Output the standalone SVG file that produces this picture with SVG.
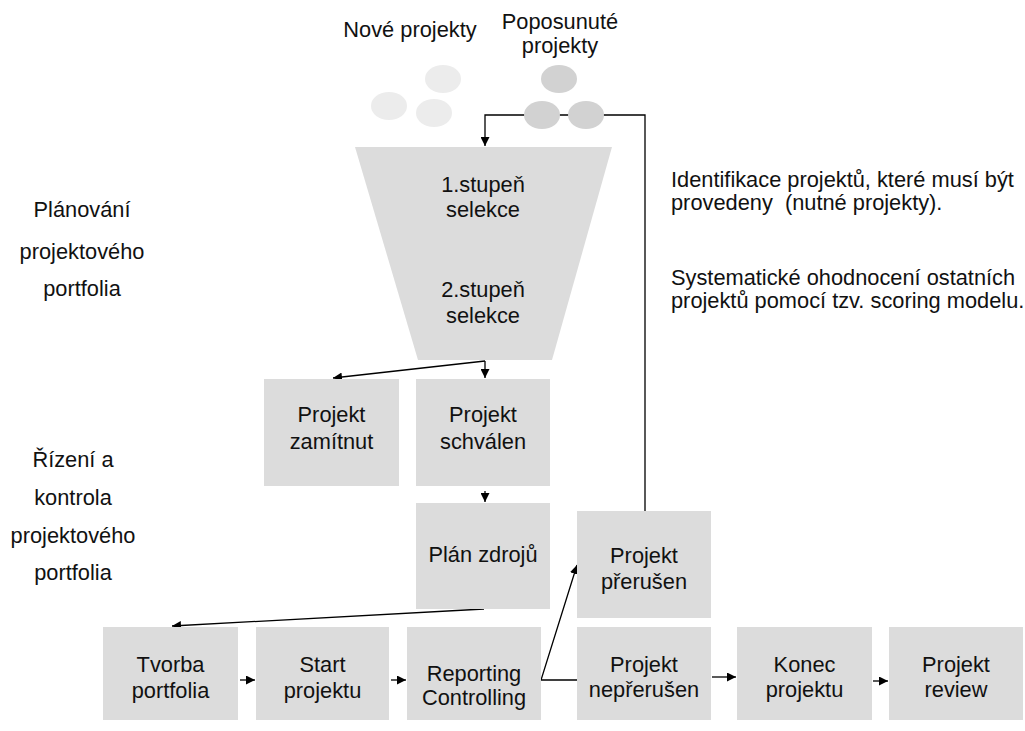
<svg xmlns="http://www.w3.org/2000/svg" width="1025" height="731" viewBox="0 0 1025 731">
  <style>
    .box { fill: #dcdcdc; }
    .t { font-family: "Liberation Sans", Arial, sans-serif; font-size: 21.8px; fill: #111; }
    .c { text-anchor: middle; }
    .ln { fill: none; stroke: #000; stroke-width: 1.3; }
    .arr { marker-end: url(#ah); }
  </style>
  <defs>
    <marker id="ah" viewBox="0 0 10 10" refX="10" refY="5" markerWidth="9" markerHeight="9" markerUnits="userSpaceOnUse" orient="auto">
      <path d="M0,0 L10,5 L0,10 z" fill="#000"/>
    </marker>
  </defs>
  <rect width="1025" height="731" fill="#fff"/>

  <!-- header labels -->
  <text class="t c" x="410" y="37">Nové projekty</text>
  <text class="t c" x="560" y="29">Poposunuté</text>
  <text class="t c" x="560" y="53">projekty</text>

  <!-- phase labels -->
  <g id="phase-planning">
    <text class="t c" x="82" y="217">Plánování</text>
    <text class="t c" x="82" y="259">projektového</text>
    <text class="t c" x="82" y="296">portfolia</text>
  </g>
  <g id="phase-control">
    <text class="t c" x="73" y="467">Řízení a</text>
    <text class="t c" x="73" y="505">kontrola</text>
    <text class="t c" x="73" y="543">projektového</text>
    <text class="t c" x="73" y="580">portfolia</text>
  </g>

  <!-- notes -->
  <g id="notes">
    <text class="t" x="671" y="187">Identifikace projektů, které musí být</text>
    <text class="t" x="671" y="210">provedeny&#160; (nutné projekty).</text>
    <text class="t" x="671" y="285">Systematické ohodnocení ostatních</text>
    <text class="t" x="671" y="308">projektů pomocí tzv. scoring modelu.</text>
  </g>

  <!-- connectors -->
  <g id="connectors">
    <polyline class="ln arr" points="645,511 645,115 485,115 485,146"/>
    <line class="ln arr" x1="485" y1="361" x2="333" y2="378"/>
    <line class="ln arr" x1="485" y1="361" x2="485" y2="378"/>
    <line class="ln arr" x1="485" y1="491" x2="485" y2="502"/>
    <line class="ln arr" x1="484" y1="609" x2="172" y2="626"/>
    <line class="ln arr" x1="240" y1="680" x2="255" y2="680"/>
    <line class="ln arr" x1="391" y1="680" x2="406" y2="680"/>
    <polyline class="ln arr" points="577,680 541,680 577,565"/>
    <line class="ln arr" x1="712" y1="677" x2="736" y2="677"/>
    <line class="ln arr" x1="873" y1="681" x2="888" y2="681"/>
  </g>

  <!-- incoming projects -->
  <g id="new-projects" fill="#ececec">
    <ellipse cx="443" cy="79" rx="18" ry="14"/>
    <ellipse cx="389" cy="106" rx="18" ry="14"/>
    <ellipse cx="434" cy="113" rx="18" ry="14"/>
  </g>
  <g id="postponed-projects" fill="#d2d2d2">
    <ellipse cx="559" cy="79" rx="18" ry="14"/>
    <ellipse cx="542" cy="115" rx="18" ry="14"/>
    <ellipse cx="586" cy="115" rx="18" ry="14"/>
  </g>

  <!-- selection funnel -->
  <g id="funnel">
    <polygon class="box" points="355,147 612,147 552,360 418,360"/>
    <text class="t c" x="483" y="192">1.stupeň</text>
    <text class="t c" x="483" y="217">selekce</text>
    <text class="t c" x="483" y="297">2.stupeň</text>
    <text class="t c" x="483" y="323">selekce</text>
  </g>

  <g id="zamitnut">
    <rect class="box" x="264" y="379" width="135" height="107"/>
    <text class="t c" x="331.5" y="422">Projekt</text>
    <text class="t c" x="331.5" y="449">zamítnut</text>
  </g>
  <g id="schvalen">
    <rect class="box" x="416" y="379" width="134" height="107"/>
    <text class="t c" x="483" y="422">Projekt</text>
    <text class="t c" x="483" y="449">schválen</text>
  </g>
  <g id="plan-zdroju">
    <rect class="box" x="416" y="503" width="134" height="106"/>
    <text class="t c" x="483" y="562">Plán zdrojů</text>
  </g>
  <g id="prerusen">
    <rect class="box" x="577" y="511" width="134" height="107"/>
    <text class="t c" x="644" y="563">Projekt</text>
    <text class="t c" x="644" y="589">přerušen</text>
  </g>

  <g id="tvorba">
    <rect class="box" x="103" y="627" width="135" height="93"/>
    <text class="t c" x="170.5" y="672">Tvorba</text>
    <text class="t c" x="170.5" y="698">portfolia</text>
  </g>
  <g id="start">
    <rect class="box" x="256" y="627" width="133" height="93"/>
    <text class="t c" x="322.5" y="672">Start</text>
    <text class="t c" x="322.5" y="698">projektu</text>
  </g>
  <g id="reporting">
    <rect class="box" x="407" y="627" width="134" height="93"/>
    <text class="t c" x="474" y="681">Reporting</text>
    <text class="t c" x="474" y="705">Controlling</text>
  </g>
  <g id="neprerusen">
    <rect class="box" x="577" y="627" width="134" height="93"/>
    <text class="t c" x="644" y="672">Projekt</text>
    <text class="t c" x="644" y="697">nepřerušen</text>
  </g>
  <g id="konec">
    <rect class="box" x="737" y="627" width="135" height="93"/>
    <text class="t c" x="804.5" y="672">Konec</text>
    <text class="t c" x="804.5" y="697">projektu</text>
  </g>
  <g id="review">
    <rect class="box" x="889" y="627" width="134" height="93"/>
    <text class="t c" x="956" y="672">Projekt</text>
    <text class="t c" x="956" y="697">review</text>
  </g>
</svg>
